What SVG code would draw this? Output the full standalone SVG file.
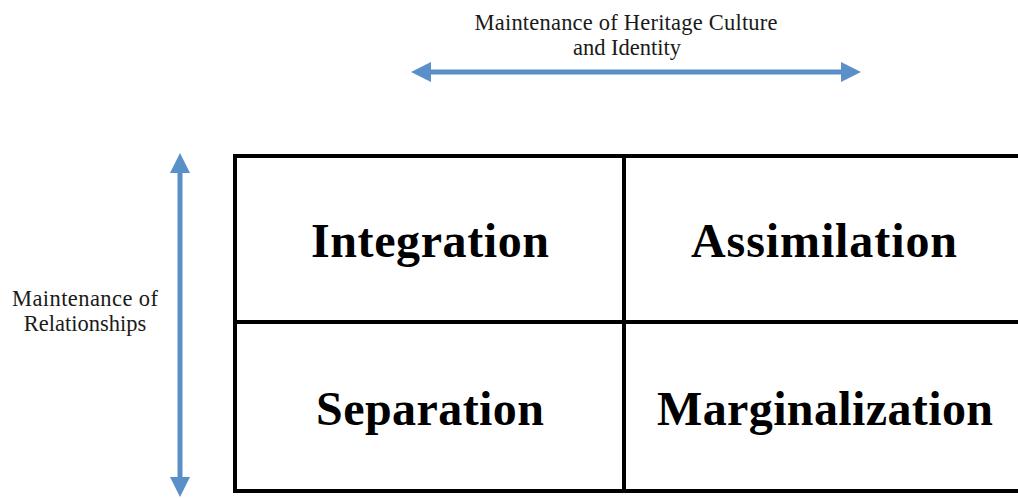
<svg xmlns="http://www.w3.org/2000/svg" width="1018" height="498" viewBox="0 0 1018 498">
<style>
.lbl{font-family:"Liberation Serif","Times New Roman",serif;font-size:22.5px;fill:#1a1a1a;text-anchor:middle}
.cell{font-family:"Liberation Serif","Times New Roman",serif;font-size:48px;font-weight:bold;fill:#000;text-anchor:middle}
.grid{stroke:#000;stroke-width:4;fill:none}
.axis{stroke:#5b8fc8;stroke-width:5;fill:none}
.head{fill:#5b8fc8}
</style>
<rect width="1018" height="498" fill="#fff"/>
<g id="connectors">
<line class="axis" x1="428" y1="72" x2="845" y2="72"/>
<polygon class="head" points="411,72 431,62 431,82"/>
<polygon class="head" points="861,72 841,62 841,82"/>
<line class="axis" x1="180" y1="170" x2="180" y2="480"/>
<polygon class="head" points="180,153 170,173 190,173"/>
<polygon class="head" points="180,497 170,477 190,477"/>
</g>
<g id="label-heritage">
<text class="lbl" x="626" y="30" textLength="303">Maintenance of Heritage Culture</text>
<text class="lbl" x="627" y="55">and Identity</text>
</g>
<g id="label-relationships">
<text class="lbl" x="85" y="306" textLength="146">Maintenance of</text>
<text class="lbl" x="85" y="331">Relationships</text>
</g>
<g id="grid">
<polyline class="grid" points="1030,156 235,156 235,491 1030,491"/>
<line class="grid" x1="624" y1="156" x2="624" y2="491"/>
<line class="grid" x1="235" y1="322" x2="1030" y2="322"/>
</g>
<g id="integration"><text class="cell" x="430" y="257" textLength="238">Integration</text></g>
<g id="assimilation"><text class="cell" x="824" y="257" textLength="266">Assimilation</text></g>
<g id="separation"><text class="cell" x="430" y="425" textLength="228">Separation</text></g>
<g id="marginalization"><text class="cell" x="825" y="425" textLength="336">Marginalization</text></g>
</svg>
